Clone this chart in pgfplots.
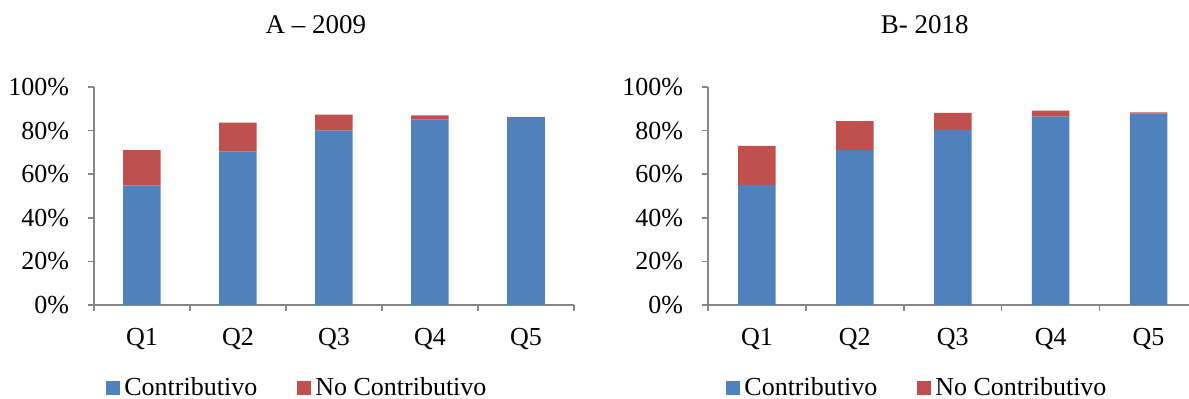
\documentclass[border=0pt]{standalone}
\usepackage{pgfplots}
\pgfplotsset{compat=1.18}
\usepackage{fontspec}
\setmainfont{Liberation Serif}
\definecolor{cblue}{HTML}{4F81BD}
\definecolor{cred}{HTML}{C0504D}
\definecolor{axgray}{HTML}{868686}
\pgfplotsset{
  panel/.style={
    scale only axis,
    height=109pt,
    ybar stacked,
    bar width=18.75pt,
    xmin=0.5, xmax=5.5,
    ymin=0, ymax=100,
    axis lines=left,
    axis line style={-, draw=axgray, line width=0.75pt},
    xtick={0.5,1.5,...,5.5},
    x tick label as interval,
    xticklabels={Q1,Q2,Q3,Q4,Q5},
    ytick={0,20,40,60,80,100},
    yticklabel={\pgfmathprintnumber{\tick}\%},
    /pgf/number format/assume math mode=true,
    tick align=outside,
    major tick length=3pt,
    tick style={draw=axgray, line width=0.75pt},
    every tick label/.append style={font=\fontsize{13}{15}\selectfont},
    xticklabel style={yshift=-5pt},
    yticklabel style={xshift=-6pt},
    title style={font=\fontsize{13.5}{16}\selectfont, anchor=center},
    legend columns=2,
    legend style={draw=none, fill=none, inner sep=0pt, anchor=west,
      font=\fontsize{13}{15}\selectfont,
      /tikz/every even column/.append style={column sep=18pt}},
    legend image code/.code={\fill[##1] (0pt,-3.5pt) rectangle (7pt,3.5pt);},
  }
}
\begin{document}
\begin{tikzpicture}
\begin{axis}[panel, at={(47pt,47pt)}, anchor=south west, width=240pt,
  title={A -- 2009}, title style={at={(0.4625,1.229)}},
  legend style={at={(0.025,-0.381)}}]
\addplot+[fill=cblue, draw=none] coordinates {(1,54.8) (2,70.4) (3,80.0) (4,85.0) (5,85.8)};
\addplot+[fill=cred, draw=none] coordinates {(1,16.2) (2,13.3) (3,7.3) (4,2.0) (5,0.4)};
\legend{Contributivo, No Contributivo}
\end{axis}
\begin{axis}[panel, at={(354pt,47pt)}, anchor=south west, width=244.75pt,
  title={B- 2018}, title style={at={(0.443,1.229)}},
  legend style={at={(0.0368,-0.381)}}]
\addplot+[fill=cblue, draw=none] coordinates {(1,55.1) (2,71.1) (3,80.3) (4,86.4) (5,87.8)};
\addplot+[fill=cred, draw=none] coordinates {(1,17.9) (2,13.2) (3,7.8) (4,2.8) (5,0.6)};
\legend{Contributivo, No Contributivo}
\end{axis}
\pgfresetboundingbox
\useasboundingbox (0pt,0pt) rectangle (594.5pt,199.5pt);
\end{tikzpicture}
\end{document}
